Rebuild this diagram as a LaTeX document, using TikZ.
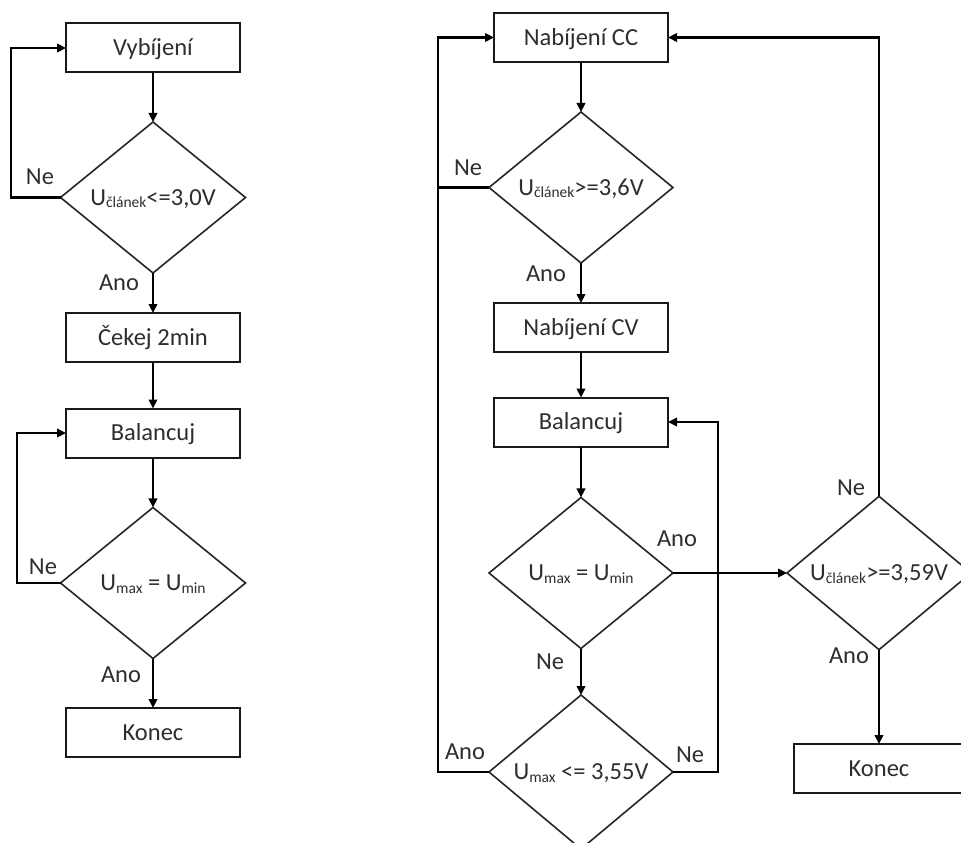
\documentclass[tikz,border=0pt]{standalone}
\usepackage{fontspec}
\setmainfont{Carlito}
\usetikzlibrary{arrows.meta,shapes.geometric}
\newcommand{\lsub}[1]{\raisebox{-2.5pt}{\fontsize{15.5}{16}\selectfont #1}}
\tikzset{
 every node/.style={font=\fontsize{24.5}{28}\selectfont, text=black!82},
 procbox/.style={draw=black!90, line width=2pt, minimum width=174pt, minimum height=49pt,
   inner sep=0pt, outer sep=0pt, text height=15.5pt, text depth=0pt},
 decis/.style={diamond, draw=black!85, line width=1.6pt, minimum width=185pt, minimum height=151pt,
   inner sep=0pt, outer sep=0pt, text height=15.5pt, text depth=0pt},
 conn/.style={line width=2.2pt, draw=black},
 arr/.style={conn, -{Triangle[length=9pt,width=8.5pt]}},
 lbl/.style={inner sep=0pt, text height=15.5pt, text depth=0pt}
}
\begin{document}
\begin{tikzpicture}[x=1pt,y=-1pt]
\useasboundingbox[fill=white] (0,0) rectangle (961,843);
% left column
\node[procbox] (v1) at (153,48) {Vybíjení};
\node[decis] (d1) at (153,197.5) {U\lsub{článek}<=3,0V};
\node[procbox] (c1) at (153,337.5) {Čekej 2min};
\node[procbox] (b1) at (153,433) {Balancuj};
\node[decis] (d2) at (153,583) {U\lsub{max} = U\lsub{min}};
\node[procbox] (k1) at (153,732.5) {Konec};
\coordinate (lx1) at (11,0);
\coordinate (lx2) at (17,0);
\draw[arr] (v1) -- (d1);
\draw[arr] (d1) -- (c1);
\draw[arr] (c1) -- (b1);
\draw[arr] (b1) -- (d2);
\draw[arr] (d2) -- (k1);
\draw[arr] (d1.west) -- (d1.west -| lx1) -- (lx1 |- v1.west) -- (v1.west);
\draw[arr] (d2.west) -- (d2.west -| lx2) -- (lx2 |- b1.west) -- (b1.west);
\node[lbl] (n1) at (40,177) {Ne};
\node[lbl] (a1) at (119,283) {Ano};
\node[lbl] (n2) at (43,567) {Ne};
\node[lbl] (a2) at (121,675) {Ano};
% right column
\node[procbox] (r1) at (581,37.5) {Nabíjení CC};
\node[decis,minimum width=184pt] (rd1) at (581,187.5) {U\lsub{článek}>=3,6V};
\node[procbox] (r2) at (581,327.5) {Nabíjení CV};
\node[procbox] (r3) at (581,422) {Balancuj};
\node[decis,minimum width=184pt] (rd2) at (581,573) {U\lsub{max} = U\lsub{min}};
\node[decis,minimum width=184pt,minimum height=154pt] (rd3) at (581,772) {U\lsub{max} <= 3,55V};
\node[decis,minimum width=184pt,minimum height=152pt] (rd4) at (879,573) {U\lsub{článek}>=3,59V};
\node[procbox,minimum width=170pt] (r4) at (879,768.5) {Konec};
\coordinate (lx3) at (438,0);
\coordinate (rx1) at (718,0);
\draw[arr] (r1) -- (rd1);
\draw[arr] (rd1) -- (r2);
\draw[arr] (r2) -- (r3);
\draw[arr] (r3) -- (rd2);
\draw[arr] (rd2) -- (rd3);
\draw[conn] (rd1.west) -- (rd1.west -| lx3);
\draw[arr] (rd3.west) -- (rd3.west -| lx3) -- (lx3 |- r1.west) -- (r1.west);
\draw[arr] (rd3.east) -- (rd3.east -| rx1) -- (rx1 |- r3.east) -- (r3.east);
\draw[arr] (rd2.east) -- (rd4.west);
\draw[arr] (rd4.north) |- (r1.east);
\draw[arr] (rd4.south) -- (r4.north);
\node[lbl] (n3) at (468,168) {Ne};
\node[lbl] (a3) at (546,274) {Ano};
\node[lbl] (a4) at (677,539) {Ano};
\node[lbl] (n4) at (550,662) {Ne};
\node[lbl] (a5) at (465,752) {Ano};
\node[lbl] (n5) at (690,755) {Ne};
\node[lbl] (n6) at (851,488) {Ne};
\node[lbl] (a6) at (849,656) {Ano};
\end{tikzpicture}
\end{document}
